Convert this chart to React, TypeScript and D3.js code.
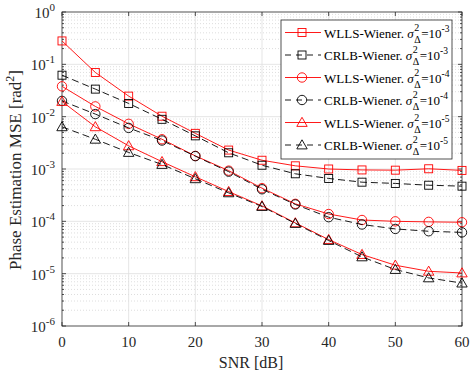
import React, { useEffect, useRef } from "react";
import * as d3 from "d3";

// SNR points in dB
const snr = [0, 5, 10, 15, 20, 25, 30, 35, 40, 45, 50, 55, 60];

// MSE values
const wlls3 = [0.28, 0.07, 0.0247, 0.0102, 0.0048, 0.0023, 0.00147, 0.00115, 0.001, 0.00096, 0.00095, 0.00101, 0.00094];
const crlb3 = [0.062, 0.0336, 0.0179, 0.0089, 0.0043, 0.00204, 0.00118, 0.00081, 0.00066, 0.00056, 0.00053, 0.00049, 0.00047];
const wlls4 = [0.038, 0.0157, 0.0073, 0.0037, 0.00178, 0.00093, 0.00043, 0.000216, 0.000138, 0.000106, 0.0001, 0.0000977, 0.000096];
const crlb4 = [0.02, 0.0112, 0.0061, 0.0035, 0.00176, 0.00089, 0.00041, 0.00021, 0.00012, 0.000087, 0.0000716, 0.0000646, 0.0000615];
const wlls5 = [0.0195, 0.0064, 0.00277, 0.00138, 0.00071, 0.00037, 0.000197, 0.0000934, 0.0000448, 0.0000232, 0.0000145, 0.0000111, 0.0000103];
const crlb5 = [0.0064, 0.0037, 0.00207, 0.00122, 0.00065, 0.00035, 0.000192, 0.000091, 0.000043, 0.0000209, 0.000012, 0.0000083, 0.0000066];

const xTicks = [0, 10, 20, 30, 40, 50, 60];
const yExponents = [0, -1, -2, -3, -4, -5, -6];

const seriesList = [
  { name: "WLLS-Wiener. ", exp: "-3", values: wlls3, color: "#ff0000", dash: null, marker: "square" },
  { name: "CRLB-Wiener. ", exp: "-3", values: crlb3, color: "#000000", dash: "7,4", marker: "square" },
  { name: "WLLS-Wiener. ", exp: "-4", values: wlls4, color: "#ff0000", dash: null, marker: "circle" },
  { name: "CRLB-Wiener. ", exp: "-4", values: crlb4, color: "#000000", dash: "7,4", marker: "circle" },
  { name: "WLLS-Wiener. ", exp: "-5", values: wlls5, color: "#ff0000", dash: null, marker: "triangle" },
  { name: "CRLB-Wiener. ", exp: "-5", values: crlb5, color: "#000000", dash: "7,4", marker: "triangle" },
];

const serif = "'Liberation Serif', 'Times New Roman', serif";

const App = () => {
  const svgRef = useRef(null);

  useEffect(() => {
    const width = 471;
    const height = 372;
    const left = 62;
    const right = 462;
    const top = 12;
    const bottom = 326;

    const svg = d3.select(svgRef.current);
    svg.selectAll("*").remove();
    svg.attr("width", width).attr("height", height);

    svg.append("rect").attr("width", width).attr("height", height).attr("fill", "#fff");

    const x = d3.scaleLinear().domain([0, 60]).range([left, right]);
    const y = d3.scaleLog().domain([1e-6, 1]).range([bottom, top]);

    // minor grid (y only)
    const minors = [];
    for (let e = -6; e < 0; e++) {
      for (let m = 2; m <= 9; m++) minors.push(m * Math.pow(10, e));
    }
    svg
      .append("g")
      .selectAll("line")
      .data(minors)
      .join("line")
      .attr("x1", left)
      .attr("x2", right)
      .attr("y1", (d) => y(d))
      .attr("y2", (d) => y(d))
      .attr("stroke", "#c8c8c8")
      .attr("stroke-width", 0.6)
      .attr("stroke-dasharray", "1,2");

    // major grid
    const grid = svg.append("g");
    grid
      .selectAll("line.gx")
      .data(xTicks.slice(1, -1))
      .join("line")
      .attr("x1", (d) => x(d))
      .attr("x2", (d) => x(d))
      .attr("y1", top)
      .attr("y2", bottom)
      .attr("stroke", "#dedede")
      .attr("stroke-width", 0.8);
    grid
      .selectAll("line.gy")
      .data(yExponents.slice(1, -1))
      .join("line")
      .attr("x1", left)
      .attr("x2", right)
      .attr("y1", (d) => y(Math.pow(10, d)))
      .attr("y2", (d) => y(Math.pow(10, d)))
      .attr("stroke", "#dedede")
      .attr("stroke-width", 0.8);

    // box + ticks
    const axis = svg.append("g").attr("stroke", "#262626").attr("stroke-width", 0.8);
    axis
      .append("rect")
      .attr("x", left)
      .attr("y", top)
      .attr("width", right - left)
      .attr("height", bottom - top)
      .attr("fill", "none");
    xTicks.forEach((t) => {
      axis.append("line").attr("x1", x(t)).attr("x2", x(t)).attr("y1", bottom).attr("y2", bottom - 4);
      axis.append("line").attr("x1", x(t)).attr("x2", x(t)).attr("y1", top).attr("y2", top + 4);
    });
    yExponents.forEach((e) => {
      const yy = y(Math.pow(10, e));
      axis.append("line").attr("x1", left).attr("x2", left + 4).attr("y1", yy).attr("y2", yy);
      axis.append("line").attr("x1", right).attr("x2", right - 4).attr("y1", yy).attr("y2", yy);
    });
    minors.forEach((m) => {
      const yy = y(m);
      axis.append("line").attr("x1", left).attr("x2", left + 2).attr("y1", yy).attr("y2", yy);
      axis.append("line").attr("x1", right).attr("x2", right - 2).attr("y1", yy).attr("y2", yy);
    });

    // x tick labels
    svg
      .append("g")
      .selectAll("text")
      .data(xTicks)
      .join("text")
      .attr("x", (d) => x(d))
      .attr("y", bottom + 21)
      .attr("text-anchor", "middle")
      .attr("font-family", serif)
      .attr("font-size", 15)
      .attr("fill", "#262626")
      .text((d) => d);

    // y tick labels 10^e
    yExponents.forEach((e) => {
      const t = svg
        .append("text")
        .attr("x", left - 7)
        .attr("y", y(Math.pow(10, e)) + 6)
        .attr("text-anchor", "end")
        .attr("font-family", serif)
        .attr("font-size", 15)
        .attr("fill", "#262626");
      t.append("tspan").text("10");
      t.append("tspan").attr("dy", -7).attr("font-size", 11).text(e === 0 ? "0" : `${e}`);
    });

    // axis labels
    svg
      .append("text")
      .attr("x", 251)
      .attr("y", 368)
      .attr("text-anchor", "middle")
      .attr("font-family", serif)
      .attr("font-size", 16)
      .attr("fill", "#262626")
      .text("SNR [dB]");

    const yl = svg
      .append("text")
      .attr("transform", `translate(21,170) rotate(-90)`)
      .attr("text-anchor", "middle")
      .attr("font-family", serif)
      .attr("font-size", 17)
      .attr("fill", "#262626");
    yl.append("tspan").text("Phase Estimation MSE [rad");
    yl.append("tspan").attr("dy", -7).attr("font-size", 12).text("2");
    yl.append("tspan").attr("dy", 7).text("]");

    const drawMarker = (g, kind, cx, cy, color) => {
      if (kind === "square") {
        g.append("rect")
          .attr("x", cx - 4)
          .attr("y", cy - 4)
          .attr("width", 8)
          .attr("height", 8)
          .attr("fill", "none")
          .attr("stroke", color)
          .attr("stroke-width", 0.9);
      } else if (kind === "circle") {
        g.append("circle")
          .attr("cx", cx)
          .attr("cy", cy)
          .attr("r", 4.7)
          .attr("fill", "none")
          .attr("stroke", color)
          .attr("stroke-width", 0.9);
      } else {
        const s = 5.2;
        g.append("path")
          .attr("d", `M${cx},${cy - s}L${cx + s},${cy + s * 0.75}L${cx - s},${cy + s * 0.75}Z`)
          .attr("fill", "none")
          .attr("stroke", color)
          .attr("stroke-width", 0.9);
      }
    };

    const plot = svg.append("g");
    const line = d3
      .line()
      .x((d) => x(d[0]))
      .y((d) => y(d[1]));

    seriesList.forEach((s) => {
      const pts = snr.map((v, i) => [v, s.values[i]]);
      plot
        .append("path")
        .datum(pts)
        .attr("d", line)
        .attr("fill", "none")
        .attr("stroke", s.color)
        .attr("stroke-width", 0.9)
        .attr("stroke-dasharray", s.dash);
      pts.forEach((p) => drawMarker(plot, s.marker, x(p[0]), y(p[1]), s.color));
    });

    // legend
    const lx = 281;
    const ly = 20;
    const legend = svg.append("g");
    legend
      .append("rect")
      .attr("x", lx)
      .attr("y", ly)
      .attr("width", 171)
      .attr("height", 139)
      .attr("fill", "#fff")
      .attr("stroke", "#262626")
      .attr("stroke-width", 0.8);

    seriesList.forEach((s, i) => {
      const cy = ly + 12.5 + i * 22.5;
      legend
        .append("line")
        .attr("x1", lx + 4)
        .attr("x2", lx + 40)
        .attr("y1", cy)
        .attr("y2", cy)
        .attr("stroke", s.color)
        .attr("stroke-width", 0.9)
        .attr("stroke-dasharray", s.dash ? "6,5" : null);
      drawMarker(legend, s.marker, lx + 21, cy, s.color);

      const tx = lx + 43;
      const base = cy + 5;
      const t = legend
        .append("text")
        .attr("x", tx)
        .attr("y", base)
        .attr("font-family", serif)
        .attr("font-size", 13)
        .attr("fill", "#000");
      t.append("tspan").text(s.name);
      t.append("tspan").attr("font-style", "italic").text("σ");
      const w = t.node().getComputedTextLength();
      legend
        .append("text")
        .attr("x", tx + w + 0.5)
        .attr("y", base - 7)
        .attr("font-family", serif)
        .attr("font-size", 10)
        .text("2");
      legend
        .append("text")
        .attr("x", tx + w + 0.5)
        .attr("y", base + 5)
        .attr("font-family", serif)
        .attr("font-size", 10)
        .text("Δ");
      const r = legend
        .append("text")
        .attr("x", tx + w + 7.5)
        .attr("y", base)
        .attr("font-family", serif)
        .attr("font-size", 13);
      r.append("tspan").text("=10");
      r.append("tspan").attr("dy", -6).attr("font-size", 9.5).text(s.exp);
    });
  }, []);

  return (
    <svg
      ref={svgRef}
      style={{ position: "absolute", left: 0, top: 0, display: "block" }}
    ></svg>
  );
};

export default App;
